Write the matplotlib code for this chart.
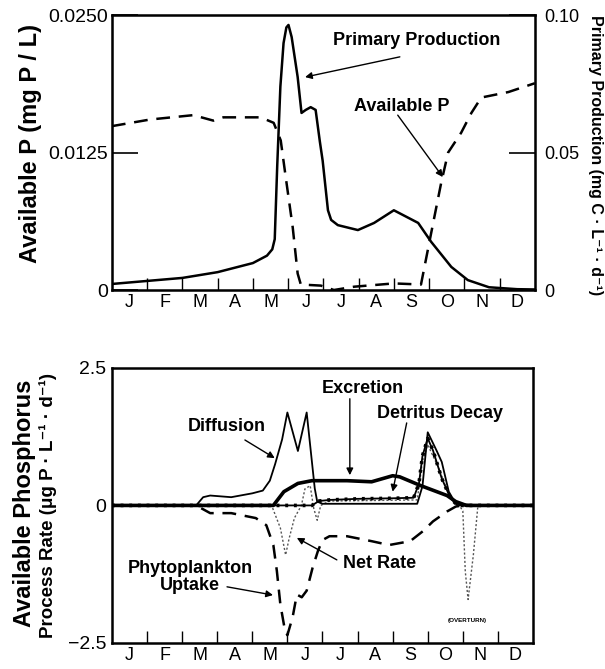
import matplotlib
matplotlib.use("Agg")
import matplotlib.pyplot as plt

plt.rcParams["font.family"] = ["Liberation Sans", "DejaVu Sans"]

months = ["J", "F", "M", "A", "M", "J", "J", "A", "S", "O", "N", "D"]

# top panel: time in months since 1 Jan
pp_t = [0, 1.0, 2.0, 3.0, 4.0, 4.4, 4.55, 4.62, 4.69, 4.78, 4.87, 4.95, 5.01,
        5.1, 5.27, 5.38, 5.5, 5.64, 5.78, 5.9, 5.98, 6.13, 6.22, 6.41, 6.98,
        7.44, 8.0, 8.69, 9.06, 9.63, 10.1, 10.7, 11.5, 12]
pp_v = [0.0022, 0.0033, 0.0044, 0.0065, 0.0098, 0.0125, 0.0148, 0.0185, 0.045,
        0.074, 0.0898, 0.0955, 0.0964, 0.092, 0.0775, 0.0644, 0.0655, 0.0665,
        0.0655, 0.054, 0.047, 0.029, 0.0255, 0.0236, 0.0218, 0.0244, 0.029,
        0.0244, 0.0175, 0.0084, 0.0036, 0.001, 0.0003, 0.0002]

ap_t = [0, 1.08, 2.31, 2.88, 3.16, 4.22, 4.59, 4.79, 4.93, 5.13, 5.27, 5.36,
        5.93, 6.30, 6.87, 8.0, 8.77, 9.06, 9.34, 9.54, 9.91, 10.2, 10.48, 11.25, 12]
ap_v = [0.0149, 0.0155, 0.0159, 0.0154, 0.0157, 0.0157, 0.0152, 0.0136, 0.0103,
        0.0057, 0.0015, 0.0005, 0.0004, 0.0, 0.0003, 0.0006, 0.0005, 0.0052,
        0.0097, 0.0125, 0.0143, 0.0161, 0.0175, 0.018, 0.0188]

# bottom panel: process rates (ug P / L / d)
dif_t = [0, 2.4, 2.6, 2.8, 3.4, 4.0, 4.3, 4.5, 4.65, 4.85, 5.0, 5.3, 5.55, 5.78,
         5.85, 6.0, 8.7, 8.85, 9.0, 9.25, 9.4, 9.6, 9.8, 10.5, 12]
dif_v = [0, 0, 0.15, 0.18, 0.15, 0.22, 0.27, 0.45, 0.75, 1.2, 1.69, 0.99, 1.69,
         0.31, 0.07, 0.03, 0.03, 0.35, 1.33, 1.0, 0.79, 0.25, 0.03, 0, 0]

exc_t = [0, 4.6, 4.9, 5.3, 5.7, 6.7, 7.4, 8.0, 8.2, 8.8, 9.55, 9.8, 10.1, 12]
exc_v = [0, 0, 0.25, 0.40, 0.45, 0.45, 0.43, 0.54, 0.52, 0.36, 0.18, 0.07, 0, 0]

det_t = [0, 5.7, 5.9, 6.2, 7.0, 8.0, 8.6, 8.75, 8.85, 9.0, 9.15, 9.4, 9.65, 9.85, 12]
det_v = [0, 0, 0.08, 0.10, 0.12, 0.13, 0.14, 0.4, 0.9, 1.22, 1.0, 0.49, 0.13, 0, 0]

upt_t = [0, 2.4, 2.8, 3.4, 4.1, 4.4, 4.6, 4.7, 4.8, 4.93, 5.0, 5.15, 5.27, 5.41,
         5.55, 5.72, 5.87, 6.0, 6.2, 6.7, 7.4, 7.9, 8.5, 8.86, 9.15, 9.55, 9.8, 10.0, 12]
upt_v = [0, 0, -0.14, -0.14, -0.23, -0.36, -0.72, -1.19, -1.8, -2.27, -2.36,
         -2.03, -1.62, -1.67, -1.55, -1.13, -0.83, -0.63, -0.56, -0.56, -0.65,
         -0.72, -0.65, -0.47, -0.29, -0.11, -0.02, 0, 0]

net_t = [0, 4.55, 4.8, 4.95, 5.05, 5.2, 5.4, 5.5, 5.65, 5.75, 5.85, 5.95, 6.2,
         8.7, 8.85, 9.0, 9.3, 9.6, 9.9, 10.0, 10.07, 10.15, 10.3, 10.43, 12]
net_v = [0, 0, -0.41, -0.9, -0.6, -0.23, 0.0, 0.3, 0.36, -0.05, -0.27, 0.0, 0.08,
         0.1, 0.8, 1.1, 0.7, 0.2, 0.0, -0.1, -1.2, -1.71, -0.9, 0, 0]

fig = plt.figure(figsize=(6.05, 6.69), dpi=100)
ax1 = fig.add_axes([0.185, 0.5665, 0.699, 0.411])
ax2 = ax1.twinx()
ax3 = fig.add_axes([0.185, 0.039, 0.696, 0.411])


def month_axis(ax):
    ax.set_xlim(0, 12)
    ax.set_xticks(range(1, 12))
    ax.set_xticklabels([])
    ax.set_xticks([m + 0.5 for m in range(12)], minor=True)
    ax.set_xticklabels(months, minor=True, fontsize=13)
    ax.tick_params(axis="x", which="major", direction="in", length=9, width=1)
    ax.tick_params(axis="x", which="minor", length=0, pad=3)
    for s in ax.spines.values():
        s.set_linewidth(1.8)


# ---- top panel
month_axis(ax1)
ax1.plot(ap_t, ap_v, color="k", lw=1.8, ls=(0, (5.5, 3.5)))
ax1.set_ylim(0, 0.025)
ax1.set_yticks([0, 0.0125, 0.025])
ax1.set_yticklabels(["0", "0.0125", "0.0250"], fontsize=14)
ax1.tick_params(axis="y", direction="in", length=19, width=1.2, pad=3)

ax2.plot(pp_t, pp_v, color="k", lw=1.8)
ax2.set_ylim(0, 0.10)
ax2.set_yticks([0, 0.05, 0.10])
ax2.set_yticklabels(["0", "0.05", "0.10"], fontsize=13)
ax2.tick_params(axis="y", direction="in", length=19, width=1.2, pad=7)
ax2.set_xlim(0, 12)

fig.text(0.051, 0.785, "Available P (mg P / L)", rotation=90, ha="center",
         va="center", fontsize=17, fontweight="bold")
fig.text(0.985, 0.768, "Primary Production (mg C · L⁻¹ · d⁻¹)", rotation=-90,
         ha="center", va="center", fontsize=11.5, fontweight="bold")

arr = dict(arrowstyle="-|>", color="k", lw=1, mutation_scale=10, shrinkA=0, shrinkB=0)
ax1.text(8.66, 0.0227, "Primary Production", ha="center", va="center",
         fontsize=13, fontweight="bold")
ax1.annotate("", xy=(5.48, 0.01936), xytext=(8.17, 0.0212), arrowprops=arr)
ax1.text(8.23, 0.01664, "Available P", ha="center", va="center",
         fontsize=13, fontweight="bold")
ax1.annotate("", xy=(9.39, 0.01027), xytext=(8.11, 0.0159), arrowprops=arr)

# ---- bottom panel
month_axis(ax3)
ax3.set_ylim(-2.5, 2.5)
ax3.set_yticks([-2.5, 0, 2.5])
ax3.set_yticklabels(["−2.5", "0", "2.5"], fontsize=14)
ax3.tick_params(axis="y", direction="in", length=0, pad=4)

ax3.plot(net_t, net_v, color="#555555", lw=1.0, ls=(0, (1.5, 1.5)))
ax3.plot(upt_t, upt_v, color="k", lw=1.8, ls=(0, (5.5, 3.5)))
ax3.plot(det_t, det_v, color="k", lw=1.3)
ax3.plot(det_t, det_v, color="k", lw=2.6, ls=(0, (0.8, 1.6)))
ax3.plot(dif_t, dif_v, color="k", lw=1.3)
ax3.plot(exc_t, exc_v, color="k", lw=2.6)

ax3.text(3.28, 1.43, "Diffusion", ha="center", va="center", fontsize=13, fontweight="bold")
ax3.annotate("", xy=(4.64, 0.86), xytext=(3.79, 1.19), arrowprops=arr)
ax3.text(7.15, 2.12, "Excretion", ha="center", va="center", fontsize=13, fontweight="bold")
ax3.annotate("", xy=(6.78, 0.55), xytext=(6.78, 1.94), arrowprops=arr)
ax3.text(9.34, 1.68, "Detritus Decay", ha="center", va="center", fontsize=13, fontweight="bold")
ax3.annotate("", xy=(8.0, 0.25), xytext=(8.40, 1.5), arrowprops=arr)
ax3.text(2.22, -1.30, "Phytoplankton\nUptake", ha="center", va="center",
         fontsize=13, fontweight="bold", linespacing=1.05)
ax3.annotate("", xy=(4.59, -1.63), xytext=(3.28, -1.48), arrowprops=arr)
ax3.text(7.63, -1.06, "Net Rate", ha="center", va="center", fontsize=13, fontweight="bold")
ax3.annotate("", xy=(5.27, -0.59), xytext=(6.41, -0.99), arrowprops=arr)
ax3.text(10.14, -2.1, "(OVERTURN)", ha="center", va="center", fontsize=4.5, fontweight="bold")

fig.text(0.041, 0.248, "Available Phosphorus", rotation=90, ha="center", va="center",
         fontsize=17, fontweight="bold")
fig.text(0.080, 0.245, "Process Rate (μg P · L⁻¹ · d⁻¹)", rotation=90,
         ha="center", va="center", fontsize=13.5, fontweight="bold")

fig.savefig("out.png", dpi=100)
